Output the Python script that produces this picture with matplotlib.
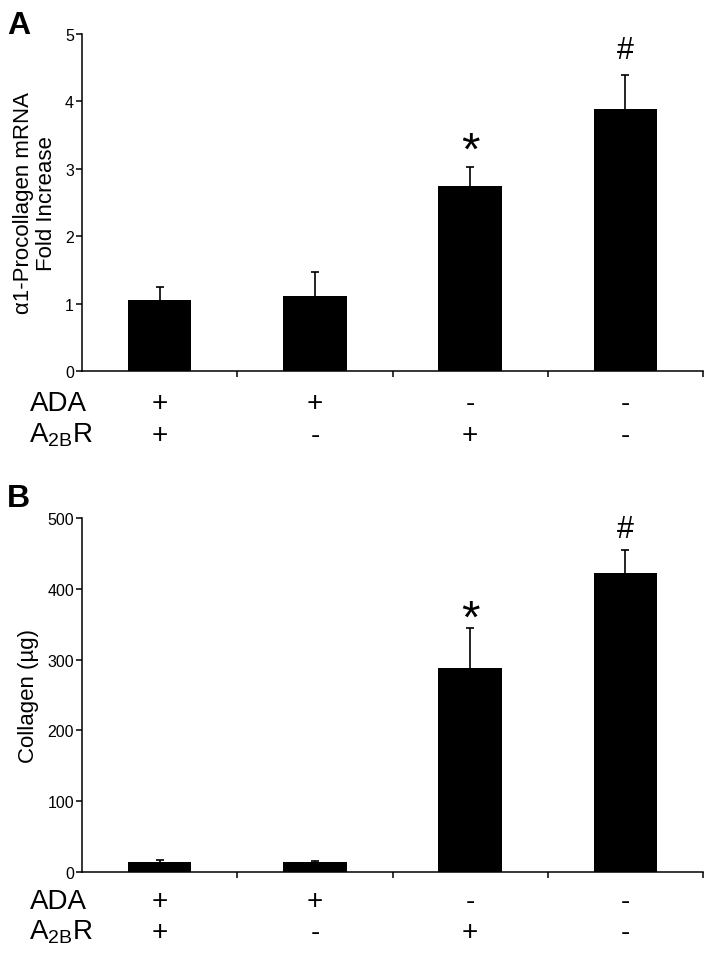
import numpy as np
import matplotlib
matplotlib.use("Agg")
import matplotlib.pyplot as plt
from matplotlib import transforms

plt.rcParams['font.family'] = ['Liberation Sans', 'DejaVu Sans']
plt.rcParams['mathtext.fontset'] = 'custom'
plt.rcParams['mathtext.rm'] = 'Liberation Sans'
plt.rcParams['mathtext.it'] = 'Liberation Sans'

W, H = 714, 954

# data
ada = ['+', '+', '-', '-']
a2br = ['+', '-', '+', '-']

mrna = [1.06, 1.11, 2.75, 3.89]
mrna_err = [0.19, 0.36, 0.28, 0.50]
mrna_marks = ['', '', '*', '#']

collagen = [14, 14, 288, 423]
collagen_err = [3, 1, 56, 32]
collagen_marks = ['', '', '*', '#']

fig = plt.figure(figsize=(W / 100, H / 100), dpi=100)

# axes box in pixels: left, right, top (ymax), bottom (y=0)
panels = [
    dict(px=(82, 703, 35, 372), vals=mrna, err=mrna_err, marks=mrna_marks,
         ylim=(0, 5), yticks=[0, 1, 2, 3, 4, 5],
         ylabel='α1-Procollagen mRNA\nFold Increase', letter='A', letter_base=34,
         rows=(39, 71), mark_off={'*': 3, '#': 17}),
    dict(px=(82, 703, 519, 873), vals=collagen, err=collagen_err, marks=collagen_marks,
         ylim=(0, 500), yticks=[0, 100, 200, 300, 400, 500],
         ylabel='Collagen (µg)', letter='B', letter_base=507,
         rows=(36, 67), mark_off={'*': -3, '#': 13}),
]

x = np.arange(4) + 0.5
for p in panels:
    l, r, t, b = p['px']
    ax = fig.add_axes([l / W, 1 - b / H, (r - l) / W, (b - t) / H])
    ax.bar(x, p['vals'], width=0.41, color='black', zorder=2)
    eb = ax.errorbar(x, p['vals'], yerr=[np.zeros(4), p['err']], fmt='none',
                     ecolor='black', elinewidth=1.2, capsize=3.2, capthick=1.2, zorder=1)
    # hide the lower caps that sit on the bar tops
    for cap in eb[1]:
        if np.allclose(cap.get_ydata(), p['vals']):
            cap.set_visible(False)
    ax.set_xlim(0, 4)
    ax.set_ylim(*p['ylim'])
    ax.set_yticks(p['yticks'])
    ax.set_xticks([1, 2, 3, 4])
    ax.set_xticklabels([])
    for s in ['top', 'right']:
        ax.spines[s].set_visible(False)
    for s in ['left', 'bottom']:
        ax.spines[s].set_linewidth(1.1)
    ax.tick_params(axis='both', direction='out', length=4.3, width=1.1, labelsize=11.5)
    ax.tick_params(axis='y', pad=1.5)
    ax.set_ylabel(p['ylabel'], fontsize=16, labelpad=6, linespacing=1.1)

    # significance marks above the error bars
    for xi, v, e, m in zip(x, p['vals'], p['err'], p['marks']):
        if m:
            ax.annotate(m, xy=(xi, v + e), xytext=(0, p['mark_off'][m] * 0.72),
                        textcoords='offset points', ha='center', va='baseline',
                        fontsize=34 if m == '*' else 22)

    # treatment rows under the axis
    trans = transforms.blended_transform_factory(ax.transData, fig.transFigure)
    y1 = 1 - (b + p['rows'][0]) / H
    y2 = 1 - (b + p['rows'][1]) / H
    fig.text(30 / W, y1, 'ADA', ha='left', va='baseline', fontsize=20)
    fig.text(29 / W, y2, 'A$_{\\mathregular{2B}}$R', ha='left', va='baseline', fontsize=20)
    for xi, a, c in zip(x, ada, a2br):
        ax.text(xi, y1, a, transform=trans, ha='center', va='baseline', fontsize=20)
        ax.text(xi, y2, c, transform=trans, ha='center', va='baseline', fontsize=20)

    fig.text(7 / W, 1 - p['letter_base'] / H, p['letter'], ha='left', va='baseline',
             fontsize=23, fontweight='bold')

fig.savefig('out.png', dpi=100)
